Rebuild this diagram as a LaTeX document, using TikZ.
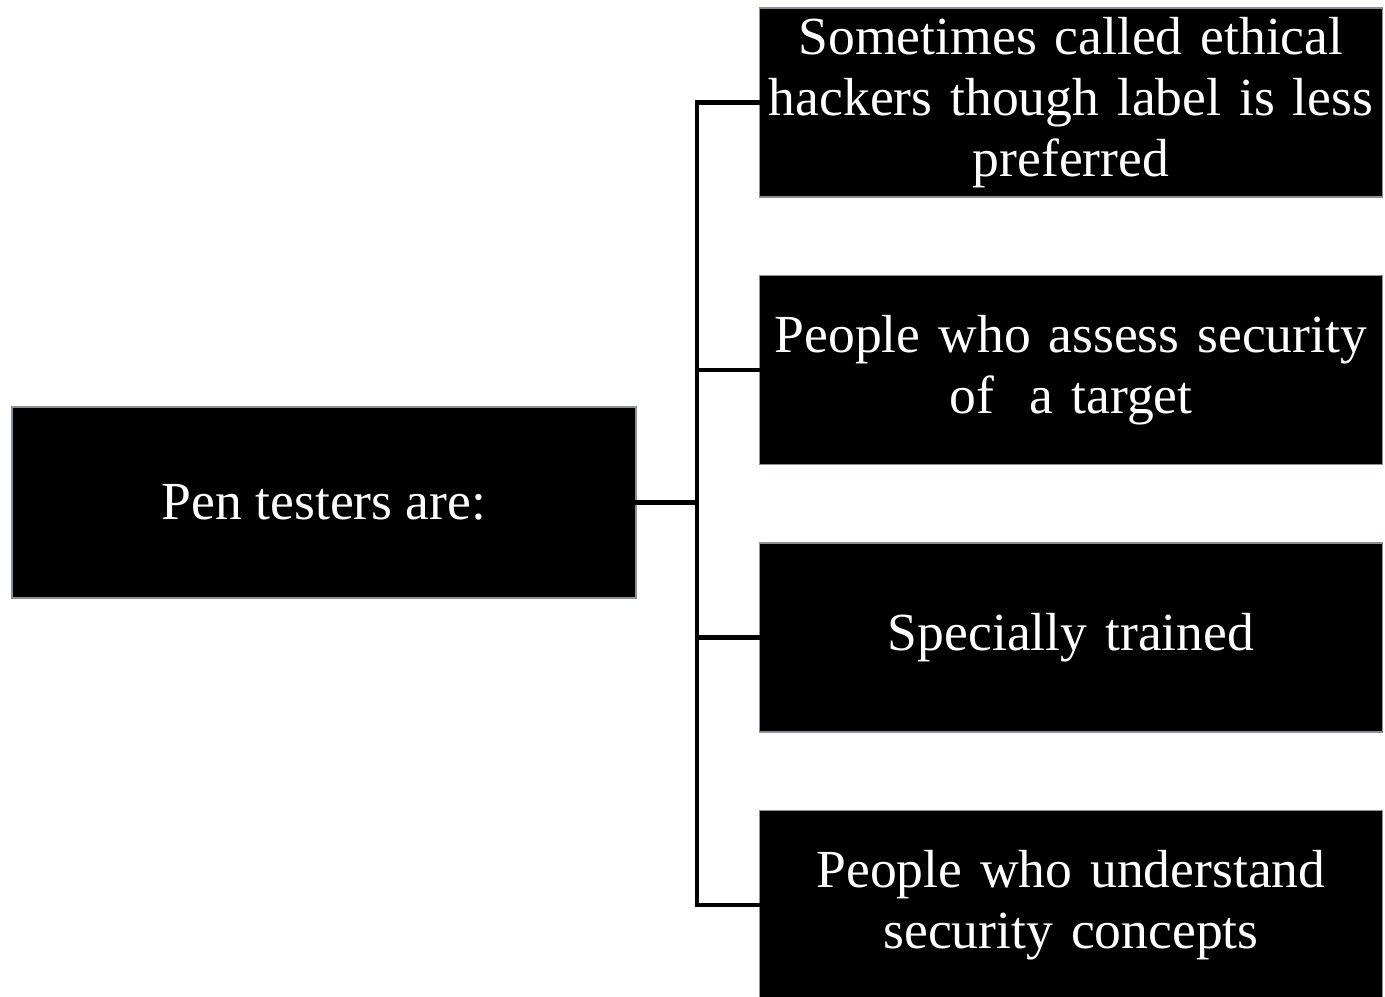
\documentclass[tikz,border=0pt]{standalone}
\usepackage{fontspec}
\setmainfont{Liberation Serif}
\usetikzlibrary{positioning}
\definecolor{cEdge}{HTML}{8A9098}

\begin{document}
\begin{tikzpicture}[
  font=\fontsize{30.5}{34.5}\selectfont,
  box/.style={draw=cEdge,fill=black,text=white,line width=0.6pt,
              minimum height=3.78cm,inner sep=1pt,align=center},
  item/.style={box,minimum width=12.44cm,text width=12.4cm},
  link/.style={line width=2.8pt,line cap=rect}
]
\useasboundingbox (0,0) rectangle (27.7,-19.94);
\node[box,minimum width=12.48cm,minimum height=3.82cm] (pen) at (6.48,-10.05) {Pen testers are:};
\node[item] (sb1) at (21.42,-2.05) {Sometimes called ethical\\ hackers though label is less\\ preferred};
\node[item] (sb2) at (21.42,-7.40) {People who assess security\\ of~ a target};
\node[item] (sb3) at (21.42,-12.75) {Specially trained};
\node[item] (sb4) at (21.42,-18.10) {People who understand\\ security concepts};

\coordinate (trunk) at (13.94,-10.05);
\draw[link] (pen.east) -- (trunk);
\draw[link] (trunk) |- (sb1.west);
\draw[link] (trunk) |- (sb2.west);
\draw[link] (trunk) |- (sb3.west);
\draw[link] (trunk) |- (sb4.west);
\end{tikzpicture}
\end{document}
